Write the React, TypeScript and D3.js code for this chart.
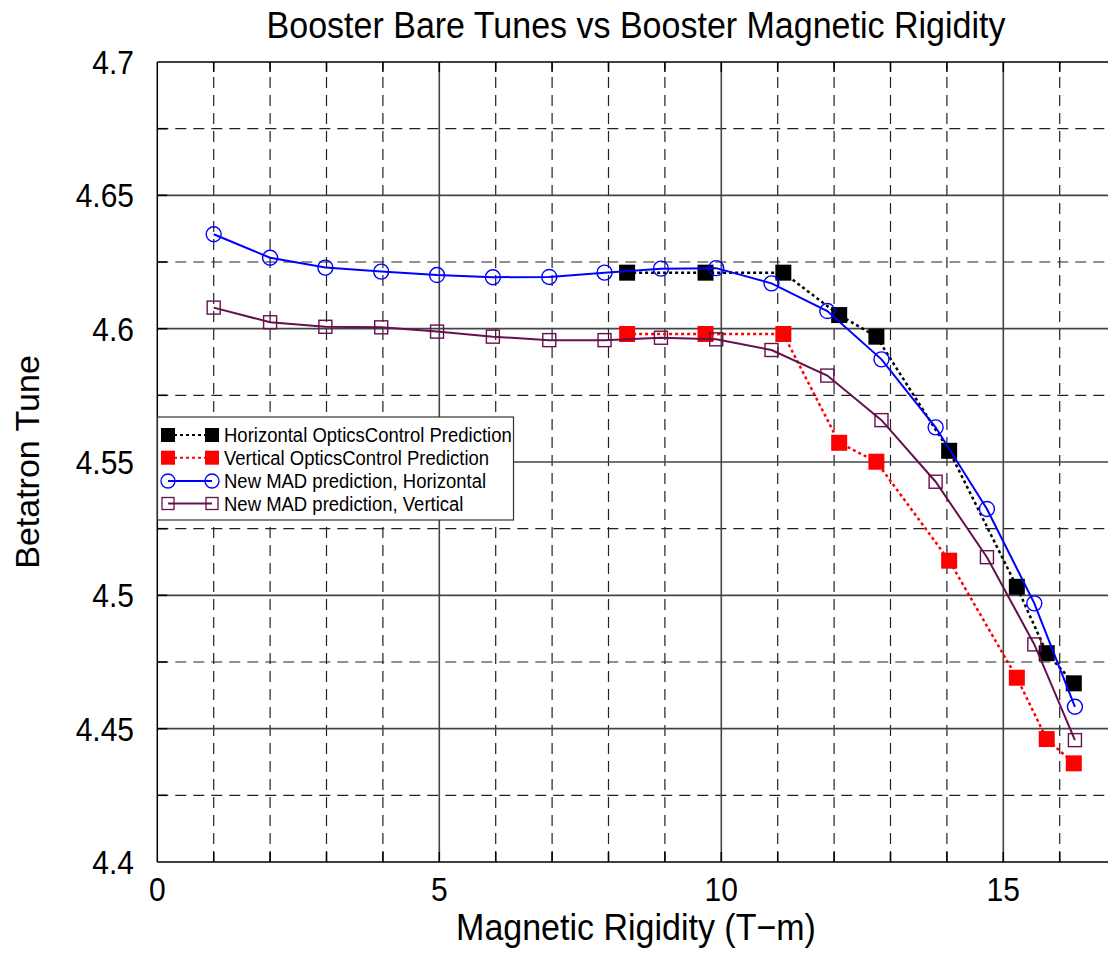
import React, { useEffect, useRef } from "react";
import * as d3 from "d3";

// New MAD prediction (17 points)
const madRigidity = [1.0, 2.0, 2.98, 3.97, 4.96, 5.95, 6.95, 7.93, 8.93, 9.91, 10.89, 11.88, 12.84, 13.8, 14.71, 15.55, 16.27];
const madHorizontal = [4.6354, 4.6266, 4.6229, 4.6214, 4.6201, 4.6193, 4.6194, 4.621, 4.6225, 4.6227, 4.617, 4.6066, 4.5885, 4.563, 4.5324, 4.497, 4.4582];
const madVertical = [4.6079, 4.6024, 4.6007, 4.6005, 4.5989, 4.597, 4.5957, 4.5957, 4.5966, 4.596, 4.592, 4.5824, 4.5657, 4.5426, 4.5143, 4.4816, 4.4457];

// OpticsControl prediction (9 points)
const ocRigidity = [8.33, 9.72, 11.1, 12.09, 12.75, 14.04, 15.24, 15.77, 16.25];
const ocHorizontal = [4.621, 4.621, 4.621, 4.6051, 4.597, 4.5542, 4.5032, 4.4783, 4.467];
const ocVertical = [4.598, 4.598, 4.598, 4.5572, 4.5501, 4.513, 4.4691, 4.4461, 4.437];

const xTickLabels = [0, 5, 10, 15];
const yTickLabels = ["4.4", "4.45", "4.5", "4.55", "4.6", "4.65", "4.7"];
const legendLabels = [
  "Horizontal OpticsControl Prediction",
  "Vertical OpticsControl Prediction",
  "New MAD prediction, Horizontal",
  "New MAD prediction, Vertical",
];

const FONT = "'Liberation Sans', Arial, Helvetica, sans-serif";
const STRETCH = 1.1;

function App() {
  const svgRef = useRef<SVGSVGElement>(null);
  const width = 1108;
  const height = 955;

  useEffect(() => {
    const svg = d3.select(svgRef.current);
    svg.selectAll("*").remove();

    const left = 157.3;
    const top = 62;
    const bottom = 862;
    const xMax = 17;

    const x = d3.scaleLinear().domain([0, xMax]).range([left, left + xMax * 56.4]);
    const y = d3.scaleLinear().domain([4.4, 4.7]).range([bottom, top]);
    const right = x(xMax);

    svg.append("rect").attr("width", width).attr("height", height).attr("fill", "#fff");

    // minor dashed grid
    const minorX = d3.range(1, xMax).filter((v) => v % 5 !== 0);
    const minorY = d3.range(0, 13).map((i) => 4.4 + i * 0.025).filter((_, i) => i % 2 === 1);
    const grid = svg.append("g");
    grid
      .selectAll("line.vx")
      .data(minorX)
      .join("line")
      .attr("x1", (d) => x(d))
      .attr("x2", (d) => x(d))
      .attr("y1", bottom)
      .attr("y2", top)
      .attr("stroke", "#222")
      .attr("stroke-width", 1.2)
      .attr("stroke-dasharray", "11,7");
    grid
      .selectAll("line.hy")
      .data(minorY)
      .join("line")
      .attr("x1", left)
      .attr("x2", right)
      .attr("y1", (d) => y(d))
      .attr("y2", (d) => y(d))
      .attr("stroke", "#222")
      .attr("stroke-width", 1.2)
      .attr("stroke-dasharray", "11,7");

    // major solid grid
    grid
      .selectAll("line.mx")
      .data([5, 10, 15])
      .join("line")
      .attr("x1", (d) => x(d))
      .attr("x2", (d) => x(d))
      .attr("y1", bottom)
      .attr("y2", top)
      .attr("stroke", "#444")
      .attr("stroke-width", 1.6);
    grid
      .selectAll("line.my")
      .data(yTickLabels.slice(1, -1).map(Number))
      .join("line")
      .attr("x1", left)
      .attr("x2", right)
      .attr("y1", (d) => y(d))
      .attr("y2", (d) => y(d))
      .attr("stroke", "#444")
      .attr("stroke-width", 1.6);

    // series
    const line = d3
      .line<[number, number]>()
      .x((d) => x(d[0]))
      .y((d) => y(d[1]));

    const ocH = ocRigidity.map((r, i) => [r, ocHorizontal[i]] as [number, number]);
    const ocV = ocRigidity.map((r, i) => [r, ocVertical[i]] as [number, number]);
    const madH = madRigidity.map((r, i) => [r, madHorizontal[i]] as [number, number]);
    const madV = madRigidity.map((r, i) => [r, madVertical[i]] as [number, number]);

    const plot = svg.append("g");

    const drawSquares = (data: [number, number][], size: number, fill: string, stroke: string, sw: number) => {
      plot
        .append("g")
        .selectAll("rect")
        .data(data)
        .join("rect")
        .attr("x", (d) => x(d[0]) - size / 2)
        .attr("y", (d) => y(d[1]) - size / 2)
        .attr("width", size)
        .attr("height", size)
        .attr("fill", fill)
        .attr("stroke", stroke)
        .attr("stroke-width", sw);
    };

    // Horizontal OpticsControl
    plot
      .append("path")
      .datum(ocH)
      .attr("fill", "none")
      .attr("stroke", "#000")
      .attr("stroke-width", 2.5)
      .attr("stroke-dasharray", "3,3")
      .attr("d", line);
    drawSquares(ocH, 16, "#000", "none", 0);

    // Vertical OpticsControl
    plot
      .append("path")
      .datum(ocV)
      .attr("fill", "none")
      .attr("stroke", "#ff0000")
      .attr("stroke-width", 2.5)
      .attr("stroke-dasharray", "3,3")
      .attr("d", line);
    drawSquares(ocV, 16, "#ff0000", "none", 0);

    // MAD horizontal
    plot
      .append("path")
      .datum(madH)
      .attr("fill", "none")
      .attr("stroke", "#0000ff")
      .attr("stroke-width", 2)
      .attr("d", line);
    plot
      .append("g")
      .selectAll("circle")
      .data(madH)
      .join("circle")
      .attr("cx", (d) => x(d[0]))
      .attr("cy", (d) => y(d[1]))
      .attr("r", 7.5)
      .attr("fill", "none")
      .attr("stroke", "#0000ff")
      .attr("stroke-width", 1.4);

    // MAD vertical
    plot
      .append("path")
      .datum(madV)
      .attr("fill", "none")
      .attr("stroke", "#66104d")
      .attr("stroke-width", 2)
      .attr("d", line);
    drawSquares(madV, 13, "none", "#66104d", 1.4);

    // frame and inward ticks
    const axes = svg.append("g").attr("stroke", "#000").attr("stroke-width", 1.5);
    axes.append("line").attr("x1", left).attr("x2", right).attr("y1", bottom).attr("y2", bottom);
    axes.append("line").attr("x1", left).attr("x2", right).attr("y1", top).attr("y2", top);
    axes.append("line").attr("x1", left).attr("x2", left).attr("y1", top).attr("y2", bottom);
    const tickX = d3.range(1, xMax);
    axes
      .selectAll("line.tb")
      .data(tickX)
      .join("line")
      .attr("x1", (d) => x(d))
      .attr("x2", (d) => x(d))
      .attr("y1", bottom)
      .attr("y2", bottom - 10);
    axes
      .selectAll("line.tt")
      .data(tickX)
      .join("line")
      .attr("x1", (d) => x(d))
      .attr("x2", (d) => x(d))
      .attr("y1", top)
      .attr("y2", top + 10);
    const tickY = d3.range(1, 12).map((i) => 4.4 + i * 0.025);
    axes
      .selectAll("line.tl")
      .data(tickY)
      .join("line")
      .attr("x1", left)
      .attr("x2", left + 10)
      .attr("y1", (d) => y(d))
      .attr("y2", (d) => y(d));

    const stretchedText = (
      g: d3.Selection<any, any, any, any>,
      tx: number,
      ty: number,
      txt: string,
      size: number,
      anchor: string
    ) => {
      g.append("g")
        .attr("transform", `translate(${tx},${ty}) scale(1,${STRETCH})`)
        .append("text")
        .attr("text-anchor", anchor)
        .attr("font-family", FONT)
        .attr("font-size", size)
        .attr("fill", "#000")
        .text(txt);
    };

    const labels = svg.append("g");
    xTickLabels.forEach((v) => stretchedText(labels, x(v), 901, String(v), 30, "middle"));
    yTickLabels.forEach((v) => stretchedText(labels, 134, y(Number(v)) + 12, v, 30, "end"));

    stretchedText(labels, 636, 38, "Booster Bare Tunes vs Booster Magnetic Rigidity", 34, "middle");
    stretchedText(labels, 636, 940, "Magnetic Rigidity (T\u2212m)", 34, "middle");

    labels
      .append("text")
      .attr("transform", `translate(39,${(top + bottom) / 2}) rotate(-90)`)
      .attr("text-anchor", "middle")
      .attr("font-family", FONT)
      .attr("font-size", 34)
      .text("Betatron Tune");

    // legend
    const lg = svg.append("g");
    lg.append("rect")
      .attr("x", 157.5)
      .attr("y", 417)
      .attr("width", 356)
      .attr("height", 103)
      .attr("fill", "#fff")
      .attr("stroke", "#333")
      .attr("stroke-width", 1.2);

    const rowY = [435, 457.7, 481, 503.5];
    const x0 = 168;
    const x1 = 212;
    legendLabels.forEach((label, i) => {
      const cy = rowY[i];
      const row = lg.append("g");
      const colour = ["#000", "#ff0000", "#0000ff", "#66104d"][i];
      row
        .append("line")
        .attr("x1", x0)
        .attr("x2", x1)
        .attr("y1", cy)
        .attr("y2", cy)
        .attr("stroke", colour)
        .attr("stroke-width", i < 2 ? 2 : 1.8)
        .attr("stroke-dasharray", i < 2 ? "3,3" : null);
      [x0, x1].forEach((cx) => {
        if (i < 2) {
          row.append("rect").attr("x", cx - 7).attr("y", cy - 7).attr("width", 14).attr("height", 14).attr("fill", colour);
        } else if (i === 2) {
          row.append("circle").attr("cx", cx).attr("cy", cy).attr("r", 7).attr("fill", "none").attr("stroke", colour).attr("stroke-width", 1.3);
        } else {
          row.append("rect").attr("x", cx - 6).attr("y", cy - 6).attr("width", 12).attr("height", 12).attr("fill", "none").attr("stroke", colour).attr("stroke-width", 1.3);
        }
      });
      stretchedText(row, 224, cy + 7.3, label, 18.5, "start");
    });
  }, []);

  return (
    <svg
      ref={svgRef}
      width={width}
      height={height}
      style={{ position: "absolute", left: 0, top: 0 }}
    ></svg>
  );
}

export default App;
